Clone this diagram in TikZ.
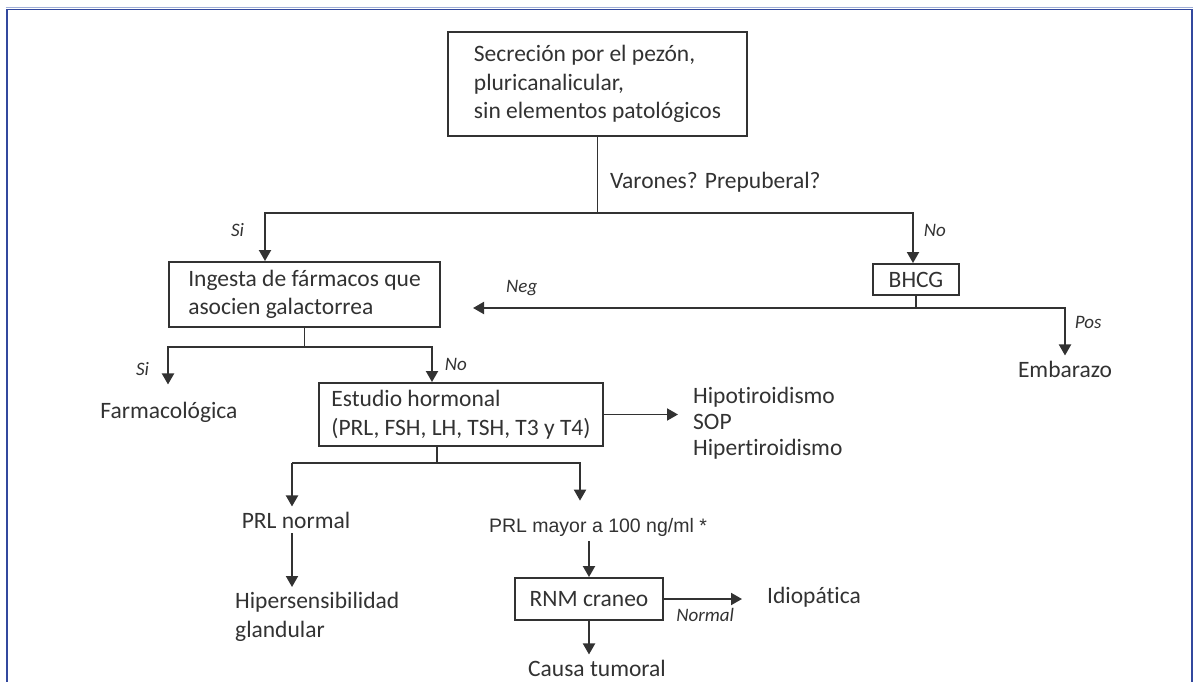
\documentclass[tikz,border=0pt]{standalone}
\usepackage{fontspec}
\setmainfont{Carlito}[Ligatures=NoCommon]
\newfontfamily\arialfont{Liberation Sans}
\usepackage{tikz}
\usetikzlibrary{arrows.meta, positioning, calc}
\definecolor{frameblue}{RGB}{50,72,158}
\definecolor{framelight}{RGB}{160,175,215}
\definecolor{inkgray}{RGB}{50,50,50}

\begin{document}
\begin{tikzpicture}[x=1pt, y=-1pt,
    flowbox/.style={draw=inkgray, line width=1.9pt, align=left, text=inkgray, font=\fontsize{23.5}{28.5}\selectfont, inner sep=0pt},
    plain/.style={align=left, text=inkgray, font=\fontsize{23.5}{28.5}\selectfont, inner sep=5pt},
    branch/.style={text=inkgray, font=\fontsize{19}{22}\selectfont\itshape, inner sep=2pt},
    line/.style={draw=inkgray, line width=1.9pt},
    arr/.style={line, -{Triangle[length=11pt, width=12pt]}}
]
\useasboundingbox (0,0) rectangle (1194,682);

% Frame
\draw[framelight, line width=1pt] (5.5,8) -- (1192.5,8);
\draw[frameblue, line width=1.6pt] (6.7,682) -- (6.7,9.6) -- (1192,9.6) -- (1192,682);

% Start box and first question
\node[flowbox, minimum width=299pt, minimum height=104pt] (start) at (597.5,84)
    {Secreción por el pezón,\\ pluricanalicular,\\ sin elementos patológicos};
\node[plain, anchor=base west] (varones) at (605,188) {Varones? Prepuberal?};

% Ingesta and BHCG
\node[flowbox, minimum width=271pt, minimum height=65pt] (ingesta) at (304.5,294.5)
    {Ingesta de fármacos que\\ asocien galactorrea};
\node[flowbox, minimum width=86pt, minimum height=31pt] (bhcg) at (916,279.5) {BHCG};

\coordinate (jL) at (265,213);
\coordinate (jR) at (913,213);
\draw[line] (start.south) -- (start.south |- jL);
\draw[arr] (start.south |- jL) -- (jL) -- node[branch, left=18pt, pos=0.35] {Si} (jL |- ingesta.north);
\draw[arr] (start.south |- jR) -- (jR) -- node[branch, right=8pt, pos=0.35] {No} (jR |- bhcg.north);

\node[plain, anchor=base] (embarazo) at (1065,377) {Embarazo};
\coordinate (negEnd) at (473,308);
\draw[arr] (bhcg.south) |- node[branch, above=9pt, pos=0.945] {Neg} (negEnd);
\draw[arr] (bhcg.south |- negEnd) -| node[branch, right=7pt, pos=0.65] {Pos} (embarazo.north);

% Drugs branch
\node[plain, anchor=base] (farm) at (169,418) {Farmacológica};
\node[flowbox, minimum width=284pt, minimum height=63pt] (estudio) at (461,414.5)
    {Estudio hormonal\\ (PRL, FSH, LH, TSH, T3 y T4)};
\coordinate (farmJ) at (168,347);
\coordinate (estJ) at (432,347);
\draw[line] (ingesta.south) -- (ingesta.south |- farmJ);
\draw[arr, shorten >=12pt] (ingesta.south |- farmJ) -- (farmJ) -- node[branch, left=16pt, pos=0.45] {Si} (farmJ |- farm.north);
\draw[arr] (ingesta.south |- estJ) -- (estJ) -- node[branch, right=10pt, pos=0.5] {No} (estJ |- estudio.north);

% Hormonal study results
\node[plain, anchor=west, font=\fontsize{23.5}{26}\selectfont] (hormlist) at (688,423)
    {Hipotiroidismo\\ SOP\\ Hipertiroidismo};
\draw[arr, shorten >=10pt] (estudio.east) -- (estudio.east -| hormlist.west);

\node[plain, anchor=base] (prlnormal) at (296,528) {PRL normal};
\node[plain, anchor=base, font=\arialfont\fontsize{19.5}{23}\selectfont] (prlmayor) at (598,532) {PRL mayor a 100 ng/ml *};
\coordinate (prlnJ) at (292,463);
\coordinate (prlmJ) at (580,463);
\draw[line] ([xshift=-24pt]estudio.south) -- ([xshift=-24pt]estudio.south |- prlnJ);
\draw[arr] (prlmJ -| prlnJ) -- (prlnJ |- prlnormal.north);
\draw[arr, shorten >=12pt] (prlnJ) -- (prlmJ) -- (prlmJ |- prlmayor.north);

\node[plain, anchor=north west] (hipersens) at (230,587) {Hipersensibilidad\\ glandular};
\draw[arr] (prlnormal.south -| prlnJ) -- (prlnJ |- hipersens.north);

% Imaging
\node[flowbox, minimum width=148pt, minimum height=42pt] (rnm) at (589,599) {RNM craneo};
\draw[arr] (prlmayor.south -| rnm.north) -- (rnm.north);
\node[plain, anchor=base west] (idio) at (762,603) {Idiopática};
\draw[arr, shorten >=20pt] (rnm.east) -- node[branch, below=6pt, pos=0.42] {Normal} (rnm.east -| idio.west);
\node[plain, anchor=base] (causa) at (597,676) {Causa tumoral};
\draw[arr] (rnm.south) -- (rnm.south |- causa.north);
\end{tikzpicture}
\end{document}
